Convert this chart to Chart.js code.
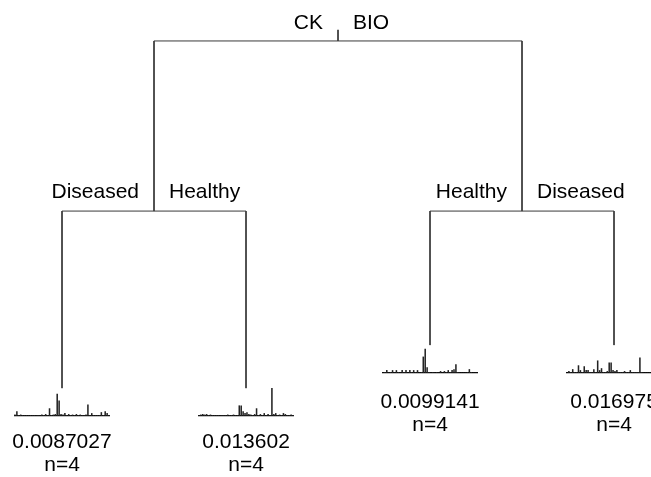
<!DOCTYPE html>
<html>
<head>
<meta charset="utf-8">
<script src="https://cdn.jsdelivr.net/npm/chart.js@4.4.1/dist/chart.umd.min.js"></script>
<style>
  body { margin: 0; background: #fff; }
  #wrap { position: relative; width: 651px; height: 477px; overflow: hidden; }
  #tree { position: absolute; left: 0; top: 0; }
  .leafplot { position: absolute; width: 96px; height: 36px; }
</style>
</head>
<body>
<div id="wrap">
  <canvas id="tree" width="651" height="477"></canvas>
</div>
<script>
// tree layout: leaves in order, heights scaled by deviance
const leafX = [1, 2, 3, 4];
const leafHeight = [0, 0, 0.124, 0.124];
const innerHeight = [0.51, 0.51];
const rootHeight = 1.0;
const rootTop = 1.032;

const splitLabels = [["CK", "BIO"], ["Diseased", "Healthy"], ["Healthy", "Diseased"]];
const leafDeviance = ["0.0087027", "0.013602", "0.0099141", "0.016975"];
const leafN = [4, 4, 4, 4];

// mean species abundances in each leaf (50 species)
const leaf1 = [1.5, 5, 1, 1.5, 1, 0.8, 1, 0.8, 1, 0.8, 1, 0.8, 1, 0.8, 1.5, 1, 2, 1, 8, 1,
  1.5, 2, 23, 16, 2, 1.5, 3, 1, 2, 1, 1.5, 1, 2, 1, 1.5, 1, 1, 1.5, 12, 1,
  3, 1, 1, 1, 1, 4, 1, 5, 3, 1];
const leaf2 = [1, 1.5, 2, 1.5, 2, 1, 1.5, 1, 1, 1, 1, 0.8, 1, 1, 1, 1.5, 1, 1, 1.5, 1,
  1, 11, 11, 5, 3, 4, 2, 1.5, 1, 2, 8, 1, 2, 1, 3, 1, 2, 1, 29, 2,
  3, 1, 1.5, 1, 3, 2, 1, 1, 1.5, 1];
const leaf3 = [0.5, 1, 3, 0.5, 1, 3, 0.5, 3, 1, 0.5, 3, 1, 3, 0.5, 3, 1, 3, 1, 3, 0.5,
  1, 17, 25, 6, 1, 0.5, 1, 0.5, 1, 0.5, 2, 0.5, 2, 1, 3, 1, 3, 4, 9, 1,
  0.5, 0.5, 0.5, 0.5, 1, 4, 1, 0.5, 0.5, 0.5];
const leaf4 = [0.5, 2, 1, 4, 1, 1, 8, 3, 1, 7, 3, 3, 1, 1, 4, 1, 13, 3, 5, 1,
  1, 2, 11, 11, 3, 2, 3, 1, 1, 1, 2, 1, 1, 3, 1, 1, 1, 1, 16, 1,
  0.5, 0.5, 0.5, 0.5, 0.5, 0.5, 0.5, 0.5, 0.5, 0.5];
const leafSpecies = [leaf1, leaf2, leaf3, leaf4];

const FONT = '"Liberation Sans", Arial, sans-serif';
const LINE = "#3a3a3a";

const leftX = (leafX[0] + leafX[1]) / 2;
const rightX = (leafX[2] + leafX[3]) / 2;
const rootX = (leftX + rightX) / 2;

const segments = [
  [[rootX, rootTop], [rootX, rootHeight]],
  [[leftX, rootHeight], [rightX, rootHeight]],
  [[leftX, rootHeight], [leftX, innerHeight[0]]],
  [[rightX, rootHeight], [rightX, innerHeight[1]]],
  [[leafX[0], innerHeight[0]], [leafX[1], innerHeight[0]]],
  [[leafX[2], innerHeight[1]], [leafX[3], innerHeight[1]]],
];
leafX.forEach((x, i) => {
  const h = i < 2 ? innerHeight[0] : innerHeight[1];
  segments.push([[x, h], [x, leafHeight[i]]]);
});

const labelPlugin = {
  id: "treeLabels",
  afterDraw(chart) {
    const ctx = chart.ctx;
    const xs = chart.scales.x;
    const ys = chart.scales.y;
    ctx.save();
    ctx.fillStyle = "#000";
    ctx.font = "21px " + FONT;
    ctx.textBaseline = "alphabetic";

    const splits = [
      [rootX, rootTop],
      [leftX, innerHeight[0]],
      [rightX, innerHeight[1]],
    ];
    splits.forEach(([x, h], i) => {
      const px = xs.getPixelForValue(x);
      const base = i === 0 ? ys.getPixelForValue(h) - 1 : ys.getPixelForValue(h) - 13;
      ctx.textAlign = "right";
      ctx.fillText(splitLabels[i][0], px - 15, base);
      ctx.textAlign = "left";
      ctx.fillText(splitLabels[i][1], px + 15, base);
    });

    ctx.textAlign = "center";
    leafX.forEach((x, i) => {
      const px = xs.getPixelForValue(x);
      const py = ys.getPixelForValue(leafHeight[i]);
      const off = i < 2 ? 60 : 63;
      ctx.fillText(leafDeviance[i], px, py + off);
      ctx.fillText("n=" + leafN[i], px, py + off + 23);
    });
    ctx.restore();
  },
};

const treeChart = new Chart(document.getElementById("tree"), {
  type: "scatter",
  data: {
    datasets: segments.map((s) => ({
      data: s.map(([x, y]) => ({ x: x, y: y })),
      showLine: true,
      borderColor: LINE,
      borderWidth: 1,
      pointRadius: 0,
    })),
  },
  options: {
    responsive: false,
    animation: false,
    layout: { padding: 0 },
    plugins: { legend: { display: false }, tooltip: { enabled: false } },
    scales: {
      x: { type: "linear", display: false, min: 0.663, max: 4.201 },
      y: { type: "linear", display: false, min: -0.256, max: 1.118 },
    },
  },
  plugins: [labelPlugin],
});

// small barplot under each leaf
const wrap = document.getElementById("wrap");
leafSpecies.forEach((values, i) => {
  const px = treeChart.scales.x.getPixelForValue(leafX[i]);
  const py = treeChart.scales.y.getPixelForValue(leafHeight[i]);
  const box = document.createElement("div");
  box.className = "leafplot";
  box.style.left = Math.round(px - 48) + "px";
  box.style.top = Math.round(py) + "px";
  const canvas = document.createElement("canvas");
  canvas.width = 96;
  canvas.height = 36;
  box.appendChild(canvas);
  wrap.appendChild(box);

  new Chart(canvas, {
    type: "bar",
    data: {
      labels: values.map((v, j) => "sp" + (j + 1)),
      datasets: [{
        data: values,
        backgroundColor: "#222",
        barPercentage: 0.8,
        categoryPercentage: 1.0,
      }],
    },
    options: {
      responsive: false,
      animation: false,
      layout: { padding: 0 },
      plugins: { legend: { display: false }, tooltip: { enabled: false } },
      scales: {
        x: {
          grid: { display: false },
          ticks: { display: false },
          border: { display: true, color: "#000", width: 1.2 },
        },
        y: { display: false, min: 0, max: 29 },
      },
    },
  });
});
</script>
</body>
</html>
